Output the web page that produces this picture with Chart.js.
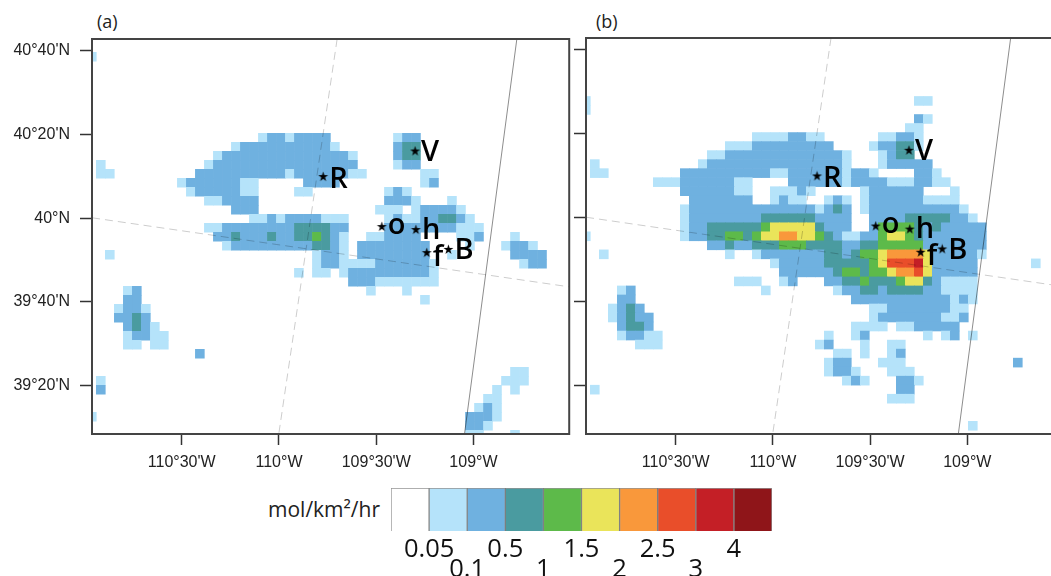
<!DOCTYPE html>
<html>
<head>
<meta charset="utf-8">
<script src="https://cdn.jsdelivr.net/npm/chart.js@4"></script>
<style>
html, body { margin: 0; padding: 0; background: #fff; width: 1051px; height: 576px; overflow: hidden; }
canvas { position: absolute; filter: blur(0.35px); }
.note { position: absolute; font-family: "Open Sans", sans-serif; color: #222; white-space: nowrap; }
</style>
</head>
<body>
<span class="note" style="left:97px;top:9px;font-size:18px">(a)</span>
<span class="note" style="left:596px;top:9px;font-size:18px">(b)</span>
<span class="note" style="left:268px;top:495px;font-size:21px">mol/km²/hr</span>
<canvas id="panelA" style="left:0;top:0"></canvas>
<canvas id="panelB" style="left:572px;top:-1px"></canvas>
<canvas id="colorBar" style="left:381px;top:480px"></canvas>
<script>
// ================= DATA =================
const lonTicks = [-110.5, -110, -109.5, -109];
const lonLabels = ["110°30'W", "110°W", "109°30'W", "109°W"];
const latTicks = [40 + 2 / 3, 40 + 1 / 3, 40, 39 + 2 / 3, 39 + 1 / 3];
const latLabels = ["40°40'N", "40°20'N", "40°N", "39°40'N", "39°20'N"];

const binColors = ["#ffffff", "#b5e3fa", "#6fb1e0", "#4a9ba0", "#5dba4a", "#eae45a", "#f9983b", "#e94e2a", "#c41f26", "#8f1519"];
const binEdgeLabels = ["0.05", "0.1", "0.5", "1", "1.5", "2", "2.5", "3", "4"];

const siteNames = ["R", "V", "o", "h", "f", "B"];
const siteLon = [-109.773, -109.300, -109.471, -109.296, -109.240, -109.129];
const siteLat = [40.166, 40.268, 39.967, 39.955, 39.863, 39.876];

// map grid lines, as lon/lat end points
const dashedLon = [-109.701, -110.001];
const dashedLat = [40.714, 39.141];
const solidLon = [-108.777, -109.046];
const solidLat = [40.714, 39.141];
const parallelLon = [-110.961, -108.508];
const parallelLat = [40.002, 39.727];

// model grid
const gridLon0 = -110.9161;
const gridLat0 = 40.6793;
const gridDLon = 0.046296;
const gridDLat = 0.035857;

// [row, first col, last col, colour bin]
const runsA = [
    [1,-1,-1,1],
    [10,18,18,1],[10,19,20,2],[10,21,21,1],[10,22,25,2],[10,33,33,1],[10,34,35,2],
    [11,15,15,1],[11,16,25,2],[11,26,26,1],[11,33,33,2],[11,34,35,3],
    [12,13,13,1],[12,14,27,2],[12,28,28,1],[12,33,33,2],[12,34,35,3],
    [13,0,0,1],[13,12,12,1],[13,13,28,2],[13,33,33,1],[13,34,35,2],
    [14,0,1,1],[14,11,20,2],[14,21,21,1],[14,22,27,2],[14,28,29,1],[14,36,37,1],
    [15,9,9,1],[15,10,15,2],[15,16,17,1],[15,23,26,2],[15,36,36,1],[15,37,37,2],
    [16,10,10,1],[16,11,15,2],[16,16,17,1],[16,22,23,1],[16,32,32,1],[16,33,33,2],[16,34,34,1],
    [17,12,13,1],[17,14,17,2],[17,32,34,2],[17,35,35,1],[17,39,39,1],
    [18,15,17,2],[18,31,33,1],[18,35,35,1],[18,36,39,2],[18,40,40,1],
    [19,17,18,1],[19,19,19,2],[19,20,20,1],[19,21,24,2],[19,25,27,1],[19,32,32,1],[19,33,33,2],[19,34,35,1],[19,36,37,2],[19,38,39,3],[19,40,40,2],[19,41,41,1],
    [20,12,13,1],[20,14,21,2],[20,22,25,3],[20,26,27,2],[20,32,39,2],[20,40,42,1],
    [21,13,14,2],[21,15,15,3],[21,16,18,2],[21,19,19,3],[21,20,21,2],[21,22,23,3],[21,24,24,4],[21,25,25,3],[21,26,26,2],[21,27,27,1],[21,30,31,1],[21,32,35,2],[21,40,41,1],[21,42,42,2],[21,46,46,1],
    [22,14,14,1],[22,15,23,2],[22,24,25,3],[22,26,26,2],[22,27,27,1],[22,29,36,2],[22,41,41,1],[22,45,45,1],[22,46,47,2],[22,48,48,1],
    [23,1,1,1],[23,24,24,1],[23,25,26,2],[23,27,27,1],[23,29,36,2],[23,39,39,1],[23,46,49,2],
    [24,24,24,1],[24,25,26,2],[24,27,30,1],[24,31,36,2],[24,37,37,1],[24,47,47,1],[24,48,49,2],
    [25,22,22,1],[25,24,25,1],[25,27,27,1],[25,28,36,2],[25,37,37,1],
    [26,28,30,2],[26,31,37,1],
    [27,3,3,1],[27,4,4,2],[27,30,30,1],[27,34,34,1],
    [28,3,4,2],[28,36,36,1],
    [29,2,2,1],[29,3,4,2],[29,5,5,1],
    [30,2,3,2],[30,4,4,3],[30,5,5,2],
    [31,3,3,2],[31,4,4,3],[31,5,5,2],[31,6,6,1],
    [32,3,3,1],[32,4,5,2],[32,6,7,1],
    [33,3,4,1],[33,6,7,1],
    [34,11,11,2],
    [36,46,47,1],
    [37,0,0,1],[37,45,47,1],
    [38,0,0,2],[38,44,44,1],[38,46,46,1],
    [39,43,44,1],
    [40,42,42,1],[40,43,43,2],[40,44,44,1],
    [41,-1,-1,1],[41,41,43,2],[41,44,44,1],
    [42,41,42,2],[42,43,43,1],
    [43,41,42,1],[43,46,46,1]
];

const runsB = [
    [6,-1,-1,1],[6,36,37,1],
    [7,-1,-1,1],
    [8,36,36,2],[8,37,37,1],
    [9,35,36,1],
    [10,18,21,1],[10,22,23,2],[10,24,25,1],[10,32,33,1],[10,34,35,2],[10,36,36,1],
    [11,15,17,1],[11,18,26,2],[11,31,31,1],[11,32,33,2],[11,34,35,3],[11,36,36,1],
    [12,13,14,1],[12,15,27,2],[12,28,28,1],[12,32,32,1],[12,33,33,2],[12,34,35,3],
    [13,0,0,1],[13,12,12,1],[13,13,27,2],[13,28,28,1],[13,32,32,1],[13,33,37,2],
    [14,0,1,1],[14,10,19,2],[14,20,21,1],[14,22,27,2],[14,28,28,1],[14,29,30,2],[14,31,31,1],[14,36,37,2],[14,38,38,1],
    [15,7,9,1],[15,10,15,2],[15,16,17,1],[15,22,27,2],[15,28,28,1],[15,29,32,2],[15,33,35,1],[15,36,37,2],[15,38,39,1],
    [16,10,15,2],[16,16,17,1],[16,20,22,1],[16,23,23,2],[16,24,24,1],[16,30,30,1],[16,31,36,2],[16,40,40,1],
    [17,11,17,2],[17,20,20,1],[17,21,21,2],[17,22,23,1],[17,26,26,1],[17,27,27,2],[17,28,28,1],[17,30,30,1],[17,31,36,2],[17,37,40,1],
    [18,10,10,1],[18,11,24,2],[18,25,25,1],[18,26,26,2],[18,27,27,3],[18,28,28,2],[18,30,30,1],[18,31,40,2],[18,41,41,1],
    [19,10,10,1],[19,11,18,2],[19,19,24,3],[19,25,28,2],[19,31,34,2],[19,35,39,3],[19,40,41,2],[19,42,42,1],
    [20,10,10,1],[20,11,12,2],[20,13,18,3],[20,19,19,4],[20,20,24,5],[20,25,25,3],[20,26,28,2],[20,31,31,2],[20,32,35,4],[20,36,36,3],[20,37,37,2],[20,38,38,3],[20,39,43,2],
    [21,-1,-1,1],[21,10,10,1],[21,11,12,2],[21,13,14,3],[21,15,16,4],[21,17,17,3],[21,18,18,4],[21,19,20,5],[21,21,22,6],[21,23,24,5],[21,25,25,4],[21,26,26,3],[21,27,27,2],[21,28,29,1],[21,30,31,2],[21,32,32,4],[21,33,34,5],[21,35,35,4],[21,36,36,3],[21,37,43,2],
    [22,13,14,2],[22,15,15,3],[22,16,17,2],[22,18,20,3],[22,21,23,4],[22,24,27,3],[22,28,29,2],[22,30,31,3],[22,32,36,4],[22,37,43,2],
    [23,1,1,1],[23,15,15,1],[23,18,18,1],[23,19,25,2],[23,26,27,3],[23,28,28,2],[23,29,29,3],[23,30,31,4],[23,32,32,5],[23,33,36,6],[23,37,37,5],[23,38,42,2],[23,43,43,1],
    [24,20,20,1],[24,21,25,2],[24,26,30,3],[24,31,31,4],[24,32,32,5],[24,33,35,7],[24,36,36,8],[24,37,37,5],[24,38,42,2],[24,49,49,1],
    [25,21,26,2],[25,27,27,3],[25,28,29,4],[25,30,30,3],[25,31,32,4],[25,33,33,5],[25,34,35,6],[25,36,36,7],[25,37,37,5],[25,38,42,2],
    [26,16,18,1],[26,21,21,1],[26,22,22,2],[26,26,27,2],[26,28,29,3],[26,30,30,4],[26,31,33,3],[26,34,34,4],[26,35,36,5],[26,37,37,3],[26,38,38,2],[26,39,42,1],
    [27,3,3,1],[27,4,4,2],[27,19,19,1],[27,27,27,1],[27,28,29,2],[27,30,31,3],[27,32,32,2],[27,33,36,3],[27,37,38,2],[27,39,42,1],
    [28,3,4,2],[28,29,39,2],[28,40,40,1],[28,41,41,2],[28,42,42,1],
    [29,2,2,1],[29,3,3,2],[29,4,4,3],[29,5,5,2],[29,31,32,1],[29,33,39,2],[29,40,41,1],
    [30,2,2,1],[30,3,3,2],[30,4,4,3],[30,5,6,2],[30,31,31,1],[30,32,38,2],[30,39,40,1],[30,41,41,2],
    [31,3,3,2],[31,4,5,3],[31,6,6,2],[31,29,32,1],[31,34,35,1],[31,36,40,2],
    [32,3,3,1],[32,4,5,2],[32,6,7,1],[32,26,26,1],[32,29,29,1],[32,30,30,2],[32,37,37,1],[32,39,39,1],[32,40,40,2],[32,42,42,1],
    [33,5,7,1],[33,25,25,1],[33,26,26,2],[33,30,30,1],[33,33,34,1],
    [34,27,28,1],[34,30,30,1],[34,33,33,1],[34,34,34,2],
    [35,26,26,1],[35,27,28,2],[35,32,34,1],[35,47,47,2],
    [36,26,26,1],[36,27,28,2],[36,29,29,1],[36,33,35,1],
    [37,28,28,1],[37,29,29,2],[37,30,30,1],[37,34,35,2],[37,36,36,1],
    [38,0,0,1],[38,34,35,2],
    [39,33,35,1],
    [42,42,42,1]
];

// ================= HELPERS =================
const CELL_PX = 9.6;
const TICK_FONT = { family: "'Liberation Sans', sans-serif", size: 16 };
const labelDrop = { R: 11, V: 10, o: 7, h: 9, f: 13, B: 10 };

function expandRuns(runs) {
    const points = [];
    const colors = [];
    runs.forEach(([row, first, last, bin]) => {
        for (let col = first; col <= last; col++) {
            points.push({ x: gridLon0 + col * gridDLon, y: gridLat0 - row * gridDLat });
            colors.push(binColors[bin]);
        }
    });
    return { points, colors };
}

function zip(xs, ys) {
    return xs.map((x, i) => ({ x, y: ys[i] }));
}

function starImage() {
    const c = document.createElement("canvas");
    c.width = 11;
    c.height = 11;
    const g = c.getContext("2d");
    g.beginPath();
    for (let i = 0; i < 10; i++) {
        const r = i % 2 ? 2 : 5.2;
        const a = -Math.PI / 2 + i * Math.PI / 5;
        g.lineTo(5.5 + r * Math.cos(a), 5.7 + r * Math.sin(a));
    }
    g.closePath();
    g.fillStyle = "#000";
    g.fill();
    return c;
}

const mapOverlay = {
    id: "mapOverlay",
    afterDraw(chart) {
        const { ctx, chartArea: a, scales } = chart;
        ctx.save();
        ctx.strokeStyle = "#444";
        ctx.lineWidth = 2;
        ctx.strokeRect(a.left, a.top, a.right - a.left, a.bottom - a.top);
        ctx.fillStyle = "#000";
        ctx.font = "600 29px 'Open Sans', sans-serif";
        ctx.textBaseline = "alphabetic";
        siteNames.forEach((name, i) => {
            const x = scales.x.getPixelForValue(siteLon[i]);
            const y = scales.y.getPixelForValue(siteLat[i]);
            ctx.fillText(name, x + 6, y + labelDrop[name]);
        });
        ctx.restore();
    }
};

// ================= MAP PANELS =================
function drawPanel(id, runs, box) {
    const canvas = document.getElementById(id);
    canvas.width = box.width;
    canvas.height = box.height;
    canvas.style.width = box.width + "px";
    canvas.style.height = box.height + "px";

    const cells = expandRuns(runs);

    return new Chart(canvas, {
        type: "scatter",
        data: {
            datasets: [
                {
                    data: zip(siteLon, siteLat),
                    pointStyle: starImage(),
                    pointRadius: 5,
                    order: 0,
                    clip: 0
                },
                {
                    data: zip(solidLon, solidLat),
                    showLine: true,
                    pointRadius: 0,
                    borderColor: "rgba(0,0,0,0.45)",
                    borderWidth: 1,
                    order: 1,
                    clip: 0
                },
                {
                    data: zip(dashedLon, dashedLat),
                    showLine: true,
                    pointRadius: 0,
                    borderColor: "rgba(0,0,0,0.2)",
                    borderWidth: 1,
                    borderDash: [8, 5],
                    order: 1,
                    clip: 0
                },
                {
                    data: zip(parallelLon, parallelLat),
                    showLine: true,
                    pointRadius: 0,
                    borderColor: "rgba(0,0,0,0.2)",
                    borderWidth: 1,
                    borderDash: [8, 5],
                    order: 1,
                    clip: 0
                },
                {
                    data: cells.points,
                    pointStyle: "rect",
                    pointRadius: CELL_PX / Math.SQRT2,
                    pointBorderWidth: 0,
                    pointBackgroundColor: cells.colors,
                    order: 2,
                    clip: 0
                }
            ]
        },
        options: {
            responsive: false,
            animation: false,
            events: [],
            layout: { padding: { top: box.top, right: box.right, left: 0, bottom: 0 } },
            plugins: { legend: { display: false }, tooltip: { enabled: false } },
            scales: {
                x: {
                    type: "linear",
                    min: -110.9614,
                    max: -108.5077,
                    afterBuildTicks: s => { s.ticks = lonTicks.map(value => ({ value })); },
                    afterFit: s => { s.height = box.bottom; },
                    border: { display: false },
                    grid: { drawOnChartArea: false, tickLength: 11, tickColor: "#333", tickWidth: 1.5 },
                    ticks: {
                        autoSkip: false,
                        maxRotation: 0,
                        padding: 8,
                        color: "#222",
                        font: TICK_FONT,
                        callback: v => lonLabels[lonTicks.indexOf(v)]
                    }
                },
                y: {
                    type: "linear",
                    min: 39.1406,
                    max: 40.7143,
                    afterBuildTicks: s => { s.ticks = latTicks.map(value => ({ value })); },
                    afterFit: s => { s.width = box.left; },
                    border: { display: false },
                    grid: { drawOnChartArea: false, tickLength: 12, tickColor: "#333", tickWidth: 1.5 },
                    ticks: {
                        display: box.showLat,
                        autoSkip: false,
                        padding: 10,
                        color: "#222",
                        font: TICK_FONT,
                        callback: v => latLabels[latTicks.indexOf(v)]
                    }
                }
            }
        },
        plugins: [mapOverlay]
    });
}

// ================= COLOUR BAR =================
function drawColorBar() {
    const canvas = document.getElementById("colorBar");
    canvas.width = 420;
    canvas.height = 96;
    canvas.style.width = "420px";
    canvas.style.height = "96px";

    const binPositions = binColors.map((c, i) => i + 0.5);
    const edgePositions = binEdgeLabels.map((t, i) => i + 1);

    return new Chart(canvas, {
        type: "bar",
        data: {
            datasets: [{
                data: binPositions.map(x => ({ x, y: 1 })),
                backgroundColor: binColors,
                borderColor: "rgba(40,40,40,0.5)",
                borderWidth: 1,
                barPercentage: 1,
                categoryPercentage: 1
            }]
        },
        options: {
            responsive: false,
            animation: false,
            events: [],
            layout: { padding: { top: 8, left: 10, right: 29, bottom: 0 } },
            plugins: { legend: { display: false }, tooltip: { enabled: false } },
            scales: {
                x: {
                    type: "linear",
                    min: 0,
                    max: 10,
                    offset: false,
                    afterBuildTicks: s => { s.ticks = edgePositions.map(value => ({ value })); },
                    afterFit: s => { s.height = 45; },
                    border: { display: false },
                    grid: { display: false },
                    ticks: {
                        autoSkip: false,
                        maxRotation: 0,
                        padding: 1,
                        color: "#111",
                        font: { family: "'Open Sans', sans-serif", size: 25.5, lineHeight: 0.78 },
                        callback: v => (v % 2 ? [binEdgeLabels[v - 1], ""] : ["", binEdgeLabels[v - 1]])
                    }
                },
                y: {
                    min: 0,
                    max: 1,
                    display: false
                }
            }
        }
    });
}

// ================= INIT =================
drawPanel("panelA", runsA, { width: 576, height: 480, left: 92, right: 3.4, top: 39, bottom: 46, showLat: true });
drawPanel("panelB", runsB, { width: 500, height: 481, left: 14, right: 9, top: 39, bottom: 46, showLat: false });
drawColorBar();
</script>
</body>
</html>
